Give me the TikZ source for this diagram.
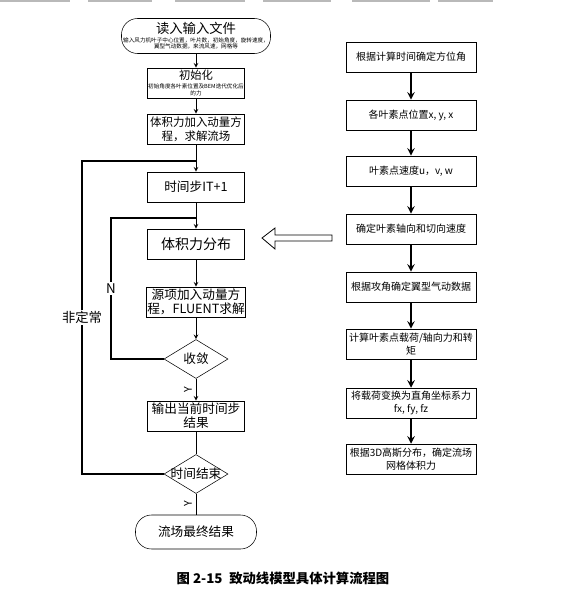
\documentclass[tikz,border=0pt]{standalone}
\usepackage{fontspec}
\setmainfont{Noto Sans CJK SC}
\usepackage{tikz}
\usetikzlibrary{shapes,arrows,positioning,calc}

\newcommand{\titlefont}{\fontsize{10}{11}\selectfont}
\newcommand{\notefont}{\fontsize{4.2}{5.2}\selectfont}

\begin{document}
\begin{tikzpicture}[x=0.75pt, y=-0.75pt]
  % Define styles
  \tikzstyle{stepbox} = [rectangle, draw, align=center, minimum width=72.75pt, minimum height=22.5pt, inner sep=0.5pt, font=\fontsize{9.5}{10.5}\selectfont]
  \tikzstyle{calcbox} = [rectangle, draw, align=center, minimum width=97.5pt, minimum height=22.5pt, inner sep=0.5pt, font=\fontsize{7.5}{10}\selectfont]
  \tikzstyle{terminal} = [rectangle, draw, rounded corners=12pt, align=center, inner sep=1pt]
  \tikzstyle{decision} = [diamond, draw, minimum width=48pt, minimum height=29.25pt, inner sep=0pt, font=\fontsize{9.5}{12}\selectfont]
  \tikzstyle{arrow} = [semithick,->,>=stealth]
  \tikzstyle{plainline} = [semithick]
  \tikzstyle{boldarrow} = [line width=1.5pt,->,>=stealth]
  \tikzstyle{loopline} = [line width=1.1pt]
  \tikzstyle{looplabel} = [fill=white, inner sep=1pt, font=\fontsize{10}{12}\selectfont]
  \tikzstyle{yeslabel} = [rotate=90, inner sep=0pt, font=\fontsize{8}{8}\selectfont]

  \useasboundingbox (0,0) rectangle (581,592);

  % Header rule
  \foreach \a/\b in {0/70, 88/152, 175/245, 263/331, 352/430, 438/493}
    \draw [gray!55, line width=1.5pt] (\a,1) -- (\b,1);

  % Main loop
  \node [terminal, minimum width=111.75pt, minimum height=26.25pt, font=\notefont] (read) at (196,36) {
    \titlefont 读入输入文件\\[1pt]
    输入风力机叶子中心位置，叶片数，初始角度，旋转速度，\\
    翼型气动数据，来流风速，网格等
  };
  \node [stepbox, font=\notefont] (init) at (196,83) {
    \fontsize{8.5}{10}\selectfont 初始化\\[1pt]
    初始角度各叶素位置及BEM迭代优化后\\
    的力
  };
  \node [stepbox, font=\fontsize{8.6}{10.5}\selectfont] (eq) at (196,129) {体积力加入动量方\\程，求解流场};
  \node [stepbox] (step) at (196,187) {时间步IT+1};
  \node [stepbox, font=\fontsize{10.5}{12}\selectfont] (force) at (196,244) {体积力分布};
  \node [stepbox] (src) at (196,302) {源项加入动量方\\程，FLUENT求解};
  \node [decision] (conv) at (196,359) {\makebox[0pt]{收敛}};
  \node [stepbox] (out) at (196,416) {输出当前时间步\\结果};
  \node [decision] (tend) at (196,474) {\makebox[0pt]{时间结束}};
  \node [terminal, minimum width=90.75pt, minimum height=25.5pt, font=\fontsize{9.5}{11}\selectfont] (final) at (196,532) {流场最终结果};

  \coordinate (nIn) at (196,218);
  \coordinate (nCorner) at (111,359);
  \coordinate (uIn) at (196,161);
  \coordinate (uCorner) at (82,474);

  % Blade element chain
  \node [calcbox] (azim) at (411,57) {根据计算时间确定方位角};
  \node [calcbox] (pos) at (411,115) {各叶素点位置x, y, x};
  \node [calcbox] (vel) at (411,171) {叶素点速度u，v, w};
  \node [calcbox] (dir) at (411,229) {确定叶素轴向和切向速度};
  \node [calcbox] (aero) at (411,287) {根据攻角确定翼型气动数据};
  \node [calcbox] (load) at (411,344) {计算叶素点载荷/轴向力和转\\矩};
  \node [calcbox] (trans) at (411,403) {将载荷变换为直角坐标系力\\fx, fy, fz};
  \node [calcbox] (gauss) at (411,459) {根据3D高斯分布，确定流场\\网格体积力};

  % Workflow arrows
  \draw [arrow] (read) -- (init);
  \draw [arrow] (init) -- (eq);
  \draw [arrow] (eq) -- (step);
  \draw [arrow] (step) -- (force);
  \draw [arrow] (force) -- (src);
  \draw [arrow] (src) -- (conv);
  \draw [arrow] (conv) -- node[pos=0.5, xshift=-6pt, yeslabel] {Y} (out);
  \draw [plainline] (out) -- (tend);
  \draw [plainline] (tend) -- node[pos=0.45, xshift=-6pt, yeslabel] {Y} (final);

  \draw [loopline] (conv.west) -- (nCorner) |- node[pos=0.25, looplabel] {N} (nIn);
  \draw [loopline] (tend.west) -- (uCorner) |- node[pos=0.25, looplabel] {非定常} (uIn);

  \draw [boldarrow] (azim) -- (pos);
  \draw [boldarrow] (pos) -- (vel);
  \draw [boldarrow] (vel) -- (dir);
  \draw [boldarrow] (dir) -- (aero);
  \draw [boldarrow] (aero) -- (load);
  \draw [boldarrow] (load) -- (trans);
  \draw [boldarrow] (trans) -- (gauss);

  % Hollow arrow into the volume force step
  \draw [semithick] (262,238) -- (275,228) -- (275,235) -- (332,235) -- (332,241) -- (275,241) -- (275,249) -- cycle;

  % Caption
  \node [font=\bfseries\fontsize{10}{12}\selectfont] (caption) at (283,578) {图 2-15\enspace 致动线模型具体计算流程图};
\end{tikzpicture}
\end{document}
